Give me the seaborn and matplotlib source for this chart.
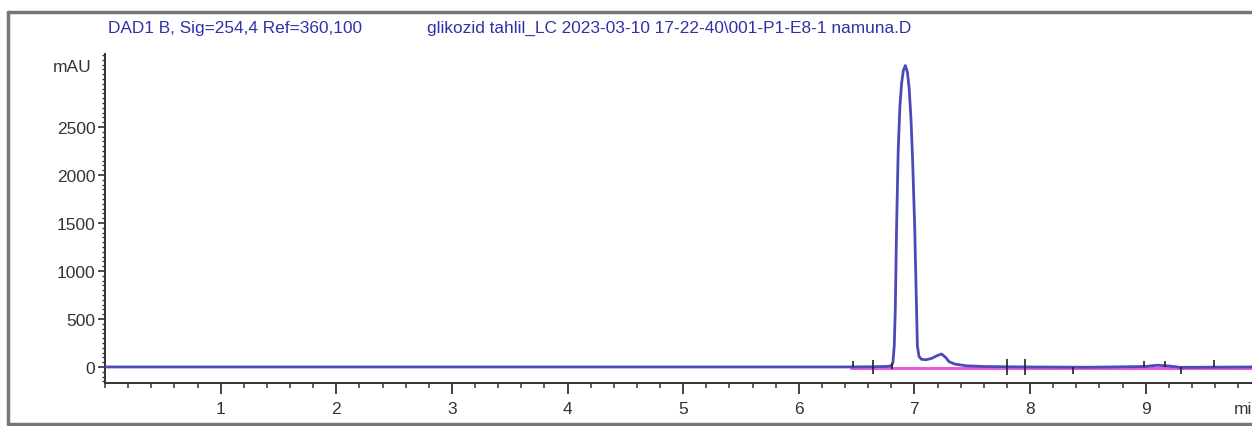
import matplotlib
matplotlib.use("Agg")
import matplotlib.pyplot as plt
from matplotlib.lines import Line2D
from matplotlib.ticker import MultipleLocator
import seaborn as sns
import pandas as pd

# ---- data ----
time_min = [0.0, 6.40, 6.60, 6.75, 6.80, 6.815, 6.826, 6.835, 6.846, 6.86,
            6.875, 6.89, 6.905, 6.922, 6.94, 6.955, 6.97, 6.985, 7.003,
            7.015, 7.026, 7.04, 7.06, 7.10, 7.15, 7.20, 7.235, 7.27, 7.30,
            7.35, 7.45, 7.60, 7.80, 8.00, 8.50, 9.00, 9.10, 9.20, 9.30, 9.92]
signal_mau = [0, 0, 2, 5, 10, 50, 220, 600, 1450, 2250,
              2720, 2960, 3090, 3140, 3070, 2900, 2600, 2150, 1450,
              800, 220, 110, 80, 75, 90, 120, 135, 100, 55,
              30, 12, 5, 2, 0, -3, 5, 18, 10, -4, 0]

baseline_t = [6.45, 7.00, 7.50, 8.00, 9.00, 9.92]
baseline_y = [-12, -12, -12, -12, -12, -12]

event_t = [6.47, 6.64, 6.81, 7.80, 7.96, 8.37, 8.99, 9.17, 9.31, 9.59]
event_lo = [0, -70, -20, -80, -80, -70, 0, 0, -70, 0]
event_hi = [60, 70, 40, 80, 80, 0, 60, 60, 0, 70]

title_left = "DAD1 B, Sig=254,4 Ref=360,100"
title_right = "glikozid tahlil_LC 2023-03-10 17-22-40\\001-P1-E8-1 namuna.D"
y_unit = "mAU"
x_unit = "min"

# ---- figure ----
W, H = 1252, 427
sns.set_theme(style="ticks")
plt.rcParams["font.family"] = ["Liberation Sans", "DejaVu Sans"]

fig = plt.figure(figsize=(W / 100, H / 100), dpi=100)
fig.patch.set_facecolor("white")

ax_left_px, ax_right_px = 105, 1252
ax_bottom_px, ax_top_px = 384, 55
ax = fig.add_axes([ax_left_px / W, (H - ax_bottom_px) / H,
                   (ax_right_px - ax_left_px) / W, (ax_bottom_px - ax_top_px) / H])
ax.set_facecolor("white")

df = pd.DataFrame({"t": time_min, "s": signal_mau})
dfb = pd.DataFrame({"t": baseline_t, "s": baseline_y})

sns.lineplot(data=dfb, x="t", y="s", ax=ax, color="#e040d8", lw=2.2,
             alpha=0.85, zorder=2, estimator=None)
sns.lineplot(data=df, x="t", y="s", ax=ax, color="#4a4ab8", lw=2.0,
             zorder=3, estimator=None)
ax.vlines(event_t, event_lo, event_hi, colors="#222222", lw=1.2, zorder=4)

ax.set_xlim(0.0, 9.92)
ax.set_ylim(-167, 3260)
ax.set_xlabel("")
ax.set_ylabel("")

ax.xaxis.set_major_locator(MultipleLocator(1))
ax.xaxis.set_minor_locator(MultipleLocator(0.2))
ax.yaxis.set_major_locator(MultipleLocator(500))
ax.yaxis.set_minor_locator(MultipleLocator(50))
ax.set_xticks([1, 2, 3, 4, 5, 6, 7, 8, 9])
ax.set_yticks([0, 500, 1000, 1500, 2000, 2500])

for s in ["top", "right"]:
    ax.spines[s].set_visible(False)
for s in ["left", "bottom"]:
    ax.spines[s].set_color("#333333")
    ax.spines[s].set_linewidth(1.4)

ax.tick_params(axis="x", which="major", length=8, width=1.3, pad=5,
               labelsize=12.5, colors="#333333", direction="out")
ax.tick_params(axis="x", which="minor", length=3.5, width=1.1,
               colors="#333333", direction="out")
ax.tick_params(axis="y", which="major", length=5, width=1.2, pad=2,
               labelsize=12.5, colors="#333333", direction="out")
ax.tick_params(axis="y", which="minor", length=2.5, width=1.0,
               colors="#333333", direction="out")
for lab in ax.get_xticklabels() + ax.get_yticklabels():
    lab.set_color("#333333")

# unit labels
fig.text(92 / W, 1 - 68 / H, y_unit, ha="right", va="center", fontsize=12.5,
         color="#333333")
fig.text(1234 / W, 1 - 410 / H, x_unit, ha="left", va="center", fontsize=12.5,
         color="#333333")

# titles
fig.text(108 / W, 1 - 28 / H, title_left, ha="left", va="center",
         fontsize=12.4, color="#3030a8")
fig.text(427 / W, 1 - 28 / H, title_right, ha="left", va="center",
         fontsize=12.4, color="#3030a8")

# outer frame
frame_kw = dict(color="#777777", lw=2.5, transform=fig.transFigure)
fig.add_artist(Line2D([8 / W, 1.0], [1 - 13 / H, 1 - 13 / H], **frame_kw))
fig.add_artist(Line2D([8 / W, 8 / W], [1 - 13 / H, 1 - 425 / H], **frame_kw))
fig.add_artist(Line2D([8 / W, 1.0], [1 - 425 / H, 1 - 425 / H], **frame_kw))

fig.savefig("out.png", dpi=100)
